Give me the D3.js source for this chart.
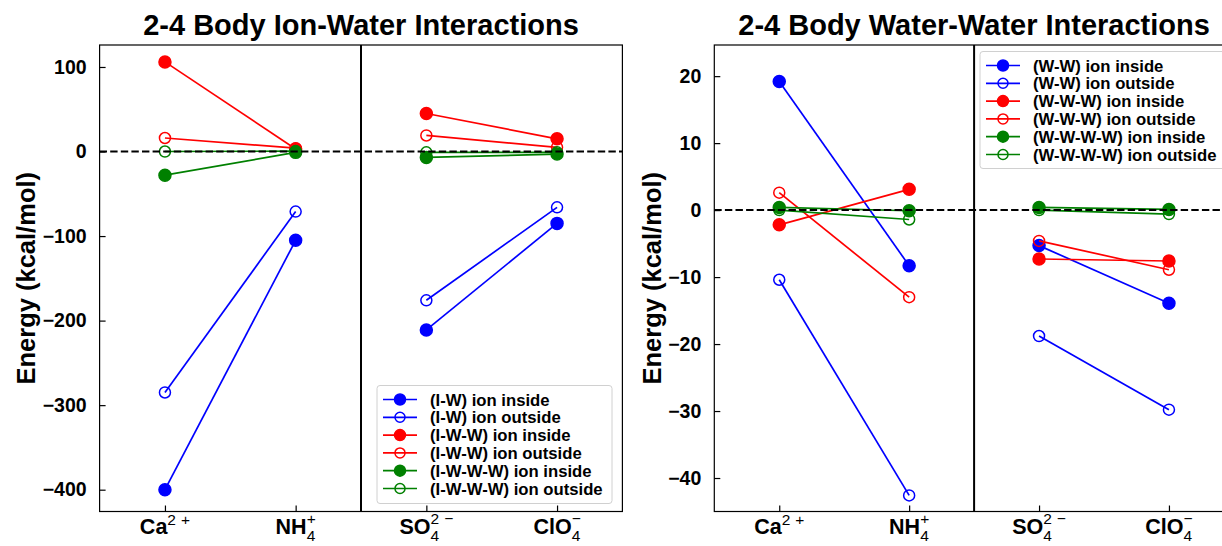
<!DOCTYPE html>
<html>
<head>
<meta charset="utf-8">
<script src="https://cdn.jsdelivr.net/npm/d3@7/dist/d3.min.js"></script>
<style>
  body { margin: 0; background: #fff; }
  svg { display: block; }
  text { font-family: "Liberation Sans", Arial, Helvetica, sans-serif; }
</style>
</head>
<body>
<svg id="chart" width="1222" height="546"></svg>
<script>
// ---- categories (ions); label pieces: base text, subscript, superscript parts
const ions = ["Ca", "NH4", "SO4", "ClO4"];
const ionBase = ["Ca", "NH", "SO", "ClO"];
const ionSub = ["", "4", "4", "4"];
const ionSup = [["2", "+"], ["+"], ["2", "\u2212"], ["\u2212"]];

// ---- ion-water many-body energies (kcal/mol)
const iwInside      = [-400, -105, -211, -85];
const iwOutside     = [-285, -71, -176, -66];
const iwwInside     = [106, 3, 45, 15];
const iwwOutside    = [16, 4, 19, 5];
const iwwwInside    = [-28, -1, -7, -3];
const iwwwOutside   = [0, 0.5, -1, -1];

// ---- water-water many-body energies (kcal/mol)
const wwInside      = [19.2, -8.3, -5.3, -13.9];
const wwOutside     = [-10.4, -42.6, -18.8, -29.8];
const wwwInside     = [-2.2, 3.1, -7.3, -7.6];
const wwwOutside    = [2.6, -13.0, -4.6, -8.9];
const wwwwInside    = [0.4, -0.1, 0.4, 0.1];
const wwwwOutside   = [0.0, -1.4, 0.0, -0.6];

// ---- tick values
const leftTicks = [100, 0, -100, -200, -300, -400];
const rightTicks = [20, 10, 0, -10, -20, -30, -40];

// ---- legend labels
const leftLabels = ["(I-W) ion inside", "(I-W) ion outside", "(I-W-W) ion inside",
                    "(I-W-W) ion outside", "(I-W-W-W) ion inside", "(I-W-W-W) ion outside"];
const rightLabels = ["(W-W) ion inside", "(W-W) ion outside", "(W-W-W) ion inside",
                     "(W-W-W) ion outside", "(W-W-W-W) ion inside", "(W-W-W-W) ion outside"];

const seriesColors = ["#0000ff", "#0000ff", "#ff0000", "#ff0000", "#008000", "#008000"];
const seriesFilled = [true, false, true, false, true, false];

const svg = d3.select("#chart");
const FONT = '"Liberation Sans", Arial, Helvetica, sans-serif';

function drawPanel(p) {
  const x = d3.scaleLinear().domain([-0.5, 3.5]).range([p.left, p.right]);
  const y = d3.scaleLinear().domain(p.yDomain).range([p.bottom, p.top]);
  const g = svg.append("g");

  // title
  g.append("text")
    .attr("x", (p.left + p.right) / 2).attr("y", 35)
    .attr("text-anchor", "middle")
    .attr("font-weight", "bold").attr("font-size", 29)
    .text(p.title);

  // y axis label
  g.append("text")
    .attr("transform", `translate(${p.labelX},${(p.top + p.bottom) / 2}) rotate(-90)`)
    .attr("text-anchor", "middle")
    .attr("font-weight", "bold").attr("font-size", 25.5)
    .text("Energy (kcal/mol)");

  // data series: two separate segments (cations, anions)
  const segs = [[0, 1], [2, 3]];
  p.series.forEach((vals, si) => {
    const col = seriesColors[si];
    segs.forEach(seg => {
      g.append("path")
        .attr("fill", "none").attr("stroke", col).attr("stroke-width", 1.7)
        .attr("d", d3.line().x(i => x(i)).y(i => y(vals[i]))(seg));
      seg.forEach(i => {
        g.append("circle")
          .attr("cx", x(i)).attr("cy", y(vals[i]))
          .attr("r", seriesFilled[si] ? 6 : 5.5)
          .attr("fill", seriesFilled[si] ? col : "none")
          .attr("stroke", col).attr("stroke-width", 1.5);
      });
    });
  });

  // zero reference line and cation/anion divider
  g.append("line")
    .attr("x1", p.left).attr("x2", p.right)
    .attr("y1", y(0)).attr("y2", y(0))
    .attr("stroke", "#000").attr("stroke-width", 2)
    .attr("stroke-dasharray", "7.4,3.2");
  g.append("line")
    .attr("x1", x(1.5)).attr("x2", x(1.5))
    .attr("y1", p.top).attr("y2", p.bottom)
    .attr("stroke", "#000").attr("stroke-width", 2);

  // frame
  g.append("rect")
    .attr("x", p.left).attr("y", p.top)
    .attr("width", p.right - p.left).attr("height", p.bottom - p.top)
    .attr("fill", "none").attr("stroke", "#000").attr("stroke-width", 1.2);

  // y axis (ticks inward)
  const yAxis = d3.axisLeft(y).tickValues(p.ticks).tickSize(-6).tickPadding(13)
    .tickFormat(d => d < 0 ? "\u2212" + Math.abs(d) : String(d));
  const ya = g.append("g").attr("transform", `translate(${p.left},0)`).call(yAxis);
  ya.select(".domain").remove();
  ya.selectAll(".tick line").attr("stroke", "#000").attr("stroke-width", 1.2);
  ya.selectAll(".tick text")
    .attr("font-family", FONT).attr("font-weight", "bold").attr("font-size", 19.5)
    .attr("fill", "#000");

  // x axis (ticks inward), labels built separately for sub/superscripts
  const xAxis = d3.axisBottom(x).tickValues([0, 1, 2, 3]).tickSize(-6).tickFormat("");
  const xa = g.append("g").attr("transform", `translate(0,${p.bottom})`).call(xAxis);
  xa.select(".domain").remove();
  xa.selectAll(".tick line").attr("stroke", "#000").attr("stroke-width", 1.2);

  ions.forEach((ion, i) => {
    const t = g.append("text")
      .attr("x", x(i)).attr("y", p.bottom + 22)
      .attr("text-anchor", "middle").attr("fill", "#000");
    t.append("tspan").attr("font-weight", "bold").attr("font-size", 21.5).text(ionBase[i]);
    let subW = 0;
    if (ionSub[i]) {
      const s = t.append("tspan").attr("font-size", 15.5).attr("dy", 7.5).text(ionSub[i]);
      subW = s.node().getComputedTextLength();
    }
    ionSup[i].forEach((part, k) => {
      const sp = t.append("tspan").attr("font-size", 15.5).text(part);
      if (k === 0) {
        sp.attr("dy", ionSub[i] ? -17 : -9);
        if (ionSub[i]) sp.attr("dx", -subW);
      } else {
        sp.attr("dx", 5);
      }
    });
  });

  // legend
  const L = p.legend;
  const lg = g.append("g");
  lg.append("rect")
    .attr("x", L.x).attr("y", L.y).attr("width", L.w).attr("height", L.h)
    .attr("rx", 3).attr("fill", "#fff").attr("fill-opacity", 0.85)
    .attr("stroke", "#d0d0d0").attr("stroke-width", 1);
  p.labels.forEach((lab, si) => {
    const ry = L.y + 14 + si * 17.8;
    const col = seriesColors[si];
    lg.append("line")
      .attr("x1", L.x + 6).attr("x2", L.x + 40).attr("y1", ry).attr("y2", ry)
      .attr("stroke", col).attr("stroke-width", 1.7);
    lg.append("circle")
      .attr("cx", L.x + 23).attr("cy", ry)
      .attr("r", seriesFilled[si] ? 5.5 : 5)
      .attr("fill", seriesFilled[si] ? col : "none")
      .attr("stroke", col).attr("stroke-width", 1.5);
    lg.append("text")
      .attr("x", L.x + 53).attr("y", ry).attr("dy", "0.36em")
      .attr("font-weight", "bold").attr("font-size", 16.7)
      .text(lab);
  });
}

drawPanel({
  title: "2-4 Body Ion-Water Interactions",
  left: 99.6, right: 622.4, top: 45, bottom: 511.5,
  yDomain: [-425.8, 126], ticks: leftTicks, labelX: 35,
  series: [iwInside, iwOutside, iwwInside, iwwOutside, iwwwInside, iwwwOutside],
  labels: leftLabels,
  legend: { x: 377, y: 385.5, w: 235, h: 118 }
});

drawPanel({
  title: "2-4 Body Water-Water Interactions",
  left: 714.3, right: 1233.9, top: 45, bottom: 511.5,
  yDomain: [-45.0, 24.65], ticks: rightTicks, labelX: 661,
  series: [wwInside, wwOutside, wwwInside, wwwOutside, wwwwInside, wwwwOutside],
  labels: rightLabels,
  legend: { x: 980, y: 51.5, w: 250, h: 117 }
});
</script>
</body>
</html>
